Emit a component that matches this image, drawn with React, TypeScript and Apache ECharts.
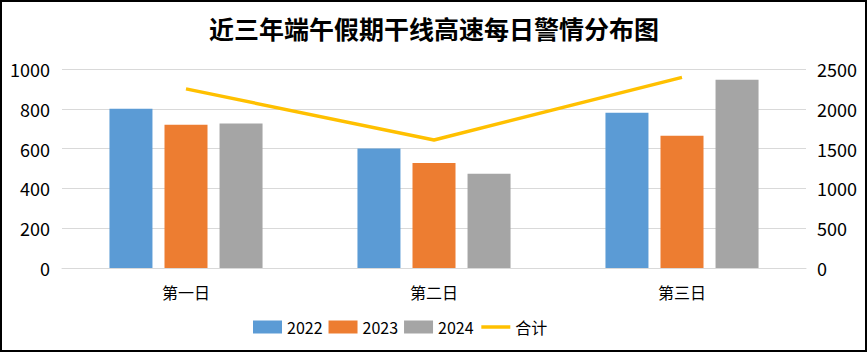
import React, { useEffect, useRef } from "react";
import * as echarts from "echarts";

const categories = ["第一日", "第二日", "第三日"];
const seriesNames = ["2022", "2023", "2024"];
const values2022 = [800, 600, 780];
const values2023 = [720, 528, 665];
const values2024 = [726, 474, 946];
const totals = [2250, 1608, 2395];
const leftTicks = [0, 1000, 200];
const rightTicks = [0, 2500, 500];

const FONT = "'Noto Sans CJK SC', 'Liberation Sans', sans-serif";

export default function App() {
  const ref = useRef<HTMLDivElement>(null);
  useEffect(() => {
    document.body.style.margin = "0";
    const chart = echarts.init(ref.current!, null, { renderer: "svg" });
    chart.setOption({
      animation: false,
      backgroundColor: "#ffffff",
      title: {
        text: "近三年端午假期干线高速每日警情分布图",
        left: "center",
        top: 10,
        textStyle: { fontFamily: FONT, fontSize: 25, fontWeight: "bold", color: "#000" },
      },
      legend: {
        left: 248,
        top: 314,
        itemWidth: 29,
        itemHeight: 13,
        itemGap: 6,
        textStyle: { fontFamily: FONT, fontSize: 16, color: "#000" },
        data: [
          ...seriesNames.map((n) => ({ name: n, icon: "rect" })),
          {
            name: "合计",
            itemStyle: { color: "rgba(0,0,0,0)", borderColor: "rgba(0,0,0,0)", borderWidth: 0 },
            lineStyle: { color: "#FFC000", width: 3.5 },
          },
        ],
      },
      grid: { left: 62, right: 62, top: 69, bottom: 85, containLabel: false },
      xAxis: {
        type: "category",
        data: categories,
        axisLine: { lineStyle: { color: "#d9d9d9", width: 1 } },
        axisTick: { show: false },
        axisLabel: { fontFamily: FONT, fontSize: 16, color: "#000", margin: 16 },
      },
      yAxis: [
        {
          type: "value",
          min: leftTicks[0],
          max: leftTicks[1],
          interval: leftTicks[2],
          axisLine: { show: false },
          axisTick: { show: false },
          splitLine: { lineStyle: { color: "#d9d9d9", width: 1 } },
          axisLabel: { fontFamily: FONT, fontSize: 18, color: "#000", margin: 12, formatter: (v: number) => String(v) },
        },
        {
          type: "value",
          min: rightTicks[0],
          max: rightTicks[1],
          interval: rightTicks[2],
          axisLine: { show: false },
          axisTick: { show: false },
          splitLine: { show: false },
          axisLabel: { fontFamily: FONT, fontSize: 18, color: "#000", margin: 11, formatter: (v: number) => String(v) },
        },
      ],
      series: [
        { name: "2022", type: "bar", data: values2022, barWidth: 43, barGap: "28%", itemStyle: { color: "#5B9BD5" } },
        { name: "2023", type: "bar", data: values2023, barWidth: 43, barGap: "28%", itemStyle: { color: "#ED7D31" } },
        { name: "2024", type: "bar", data: values2024, barWidth: 43, barGap: "28%", itemStyle: { color: "#A5A5A5" } },
        {
          name: "合计",
          type: "line",
          yAxisIndex: 1,
          data: totals,
          symbol: "none",
          lineStyle: { color: "#FFC000", width: 3.5 },
          itemStyle: { color: "#FFC000" },
        },
      ],
    });
    return () => chart.dispose();
  }, []);
  return (
    <div style={{ position: "absolute", left: 0, top: 0, width: 868, height: 353 }}>
      <div ref={ref} style={{ position: "absolute", left: 0, top: 0, width: 868, height: 353 }} />
      <div
        style={{
          position: "absolute",
          left: 0,
          top: 0,
          width: 867,
          height: 352,
          boxSizing: "border-box",
          border: "2px solid #000",
          pointerEvents: "none",
        }}
      />
    </div>
  );
}
